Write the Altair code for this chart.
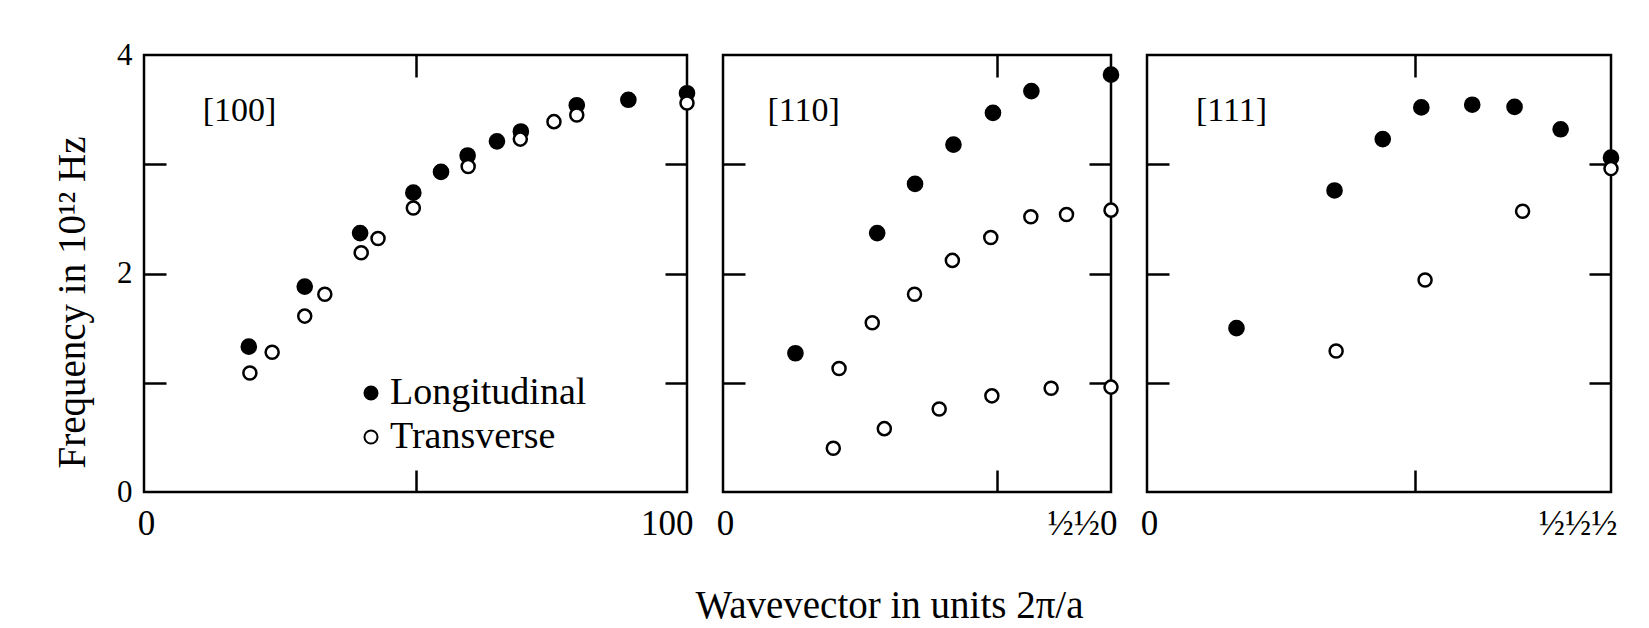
import altair as alt
import pandas as pd

# ---------------- data (wavevector in units 2*pi/a, frequency in 1e12 Hz) ----------------
# [100]
p100_long_k = [0.193, 0.296, 0.398, 0.496, 0.547, 0.596, 0.650, 0.694, 0.797, 0.892, 1.0]
p100_long_f = [1.33, 1.88, 2.37, 2.74, 2.93, 3.08, 3.21, 3.30, 3.54, 3.59, 3.65]
p100_trans_k = [0.195, 0.236, 0.296, 0.333, 0.400, 0.431, 0.496, 0.597, 0.693, 0.755, 0.797, 1.0]
p100_trans_f = [1.09, 1.28, 1.61, 1.81, 2.19, 2.32, 2.60, 2.98, 3.23, 3.39, 3.45, 3.56]

# [110]
p110_long_k = [0.132, 0.281, 0.350, 0.420, 0.492, 0.562, 0.7071]
p110_long_f = [1.27, 2.37, 2.82, 3.18, 3.47, 3.67, 3.82]
p110_trans_k = [0.2115, 0.272, 0.349, 0.418, 0.488, 0.561, 0.626, 0.7071,
                0.201, 0.294, 0.394, 0.490, 0.598, 0.7071]
p110_trans_f = [1.13, 1.55, 1.81, 2.12, 2.33, 2.52, 2.54, 2.58,
                0.40, 0.58, 0.76, 0.88, 0.95, 0.96]

# [111]
p111_long_k = [0.167, 0.350, 0.440, 0.512, 0.607, 0.686, 0.772, 0.866]
p111_long_f = [1.50, 2.76, 3.23, 3.52, 3.545, 3.525, 3.32, 3.06]
p111_trans_k = [0.353, 0.519, 0.701, 0.866]
p111_trans_f = [1.29, 1.94, 2.57, 2.96]

directions = ["[100]", "[110]", "[111]"]
k_max = [1.0, 0.7071, 0.866]
end_labels = ["100", "½½0", "½½½"]
modes = ["Longitudinal", "Transverse"]

# panel-name placement (data units)
name_k = [0.108, 0.081, 0.0915]
name_f = [3.49, 3.49, 3.49]

FONT = "Liberation Serif"
TICK = 22
LW = 2.5
H = 437


def inner_axis(orient, values):
    return alt.Axis(orient=orient, values=values, offset=-TICK, tickSize=TICK,
                    ticks=True, labels=False, domain=False, grid=False, title=None,
                    tickColor="black", tickWidth=LW)


def make_panel(i, lk, lf, tk, tf, width):
    xmax = k_max[i]
    xs = alt.Scale(domain=[0, xmax], nice=False, zero=False)
    ys = alt.Scale(domain=[0, 4], nice=False, zero=False)
    fs = alt.Scale(domain=modes, range=["black", "white"])

    long_df = pd.DataFrame({"k": lk, "f": lf, "mode": modes[0]})
    trans_df = pd.DataFrame({"k": tk, "f": tf, "mode": modes[1]})
    name_df = pd.DataFrame({"k": [name_k[i]], "f": [name_f[i]], "name": [directions[i]]})

    x_axis = alt.Axis(
        values=[0, xmax],
        labelExpr=f"datum.value == 0 ? '0' : '{end_labels[i]}'",
        ticks=False, domain=False, grid=False,
        labelFont=FONT, labelFontSize=35, labelColor="black", labelPadding=14,
        labelAlign={"condition": {"test": "datum.value == 0", "value": "center"}, "value": "right"},
        labelOffset={"condition": {"test": "datum.value == 0", "value": 2}, "value": 6},
        title="Wavevector in units 2π/a" if i == 1 else None,
        titleFont=FONT, titleFontSize=39, titleFontWeight="normal", titleColor="black",
        titlePadding=45, titleX=166, titleAlign="center",
    )
    if i == 0:
        y_axis = alt.Axis(
            values=[0, 2, 4], ticks=False, domain=False, grid=False,
            labelFont=FONT, labelFontSize=31, labelColor="black", labelPadding=12,
            title="Frequency in 10¹² Hz", titleFont=FONT, titleFontSize=39,
            titleFontWeight="normal", titleColor="black", titlePadding=24,
            titleY=247,
        )
        legend = alt.Legend(orient="none", legendX=208, legendY=319, title=None,
                            labelFont=FONT, labelFontSize=38, labelColor="black",
                            labelLimit=0,
                            symbolType="circle", symbolSize=170, symbolStrokeColor="black",
                            symbolStrokeWidth=2, labelOffset=0, rowPadding=6)
    else:
        y_axis = None
        legend = None

    fill = alt.Fill("mode:N", scale=fs, legend=legend)

    long_layer = alt.Chart(long_df).mark_circle(
        size=215, stroke="black", strokeWidth=2, opacity=1
    ).encode(
        x=alt.X("k:Q", scale=xs, axis=x_axis),
        y=alt.Y("f:Q", scale=ys, axis=y_axis),
        fill=fill,
    )
    trans_layer = alt.Chart(trans_df).mark_circle(
        size=170, stroke="black", strokeWidth=2.5, opacity=1
    ).encode(
        x=alt.X("k:Q", scale=xs, axis=inner_axis("top", [0.5])),
        y=alt.Y("f:Q", scale=ys, axis=inner_axis("right", [1, 2, 3])),
        fill=fill,
    )
    name_layer = alt.Chart(name_df).mark_text(
        align="left", baseline="middle", font=FONT, fontSize=34, color="black"
    ).encode(
        x=alt.X("k:Q", scale=xs, axis=inner_axis("bottom", [0.5])),
        y=alt.Y("f:Q", scale=ys, axis=inner_axis("left", [1, 2, 3])),
        text="name:N",
    )
    return alt.layer(long_layer, trans_layer, name_layer).resolve_axis(
        x="independent", y="independent"
    ).properties(width=width, height=H)


p1 = make_panel(0, p100_long_k, p100_long_f, p100_trans_k, p100_trans_f, 543)
p2 = make_panel(1, p110_long_k, p110_long_f, p110_trans_k, p110_trans_f, 388)
p3 = make_panel(2, p111_long_k, p111_long_f, p111_trans_k, p111_trans_f, 464)

chart = alt.hconcat(p1, p2, p3, spacing=36, bounds="flush").resolve_scale(
    x="independent"
).resolve_legend(fill="independent").properties(
    padding={"left": 52, "top": 37, "right": 10, "bottom": 5},
    background="white",
).configure_view(stroke="black", strokeWidth=LW)

chart.save("out.html", embed_options={"renderer": "svg", "actions": False})
